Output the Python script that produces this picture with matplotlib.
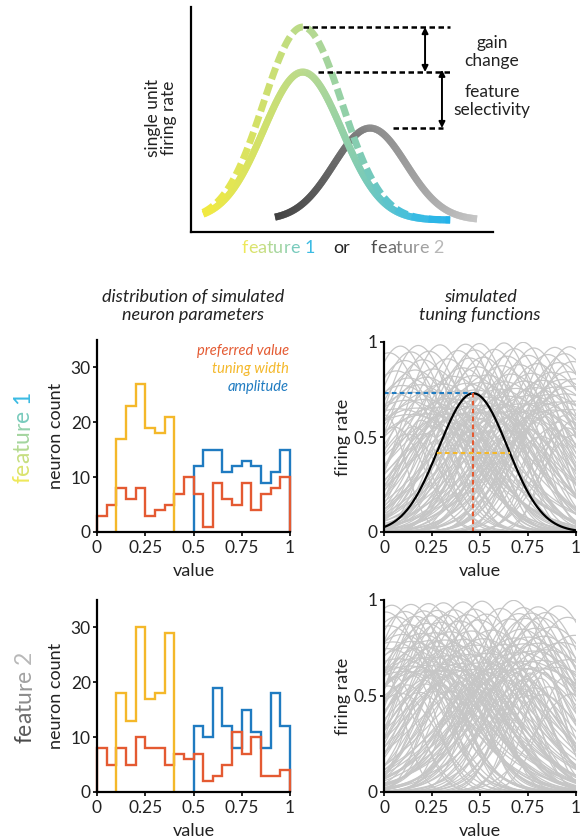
import numpy as np
import matplotlib
matplotlib.use("Agg")
import matplotlib.pyplot as plt
from matplotlib.collections import LineCollection
from matplotlib.colors import LinearSegmentedColormap
from matplotlib.font_manager import FontProperties

FAMILY = ['Lato', 'DejaVu Sans']
plt.rcParams['font.family'] = FAMILY

# ---------------------------------------------------------------- data
# schematic tuning curves (top panel, arbitrary units 0..1)
f1_center = 0.37
f1_sigma = 0.13
f1_baseline = 0.053
f1_amp_solid = 0.658
f1_amp_gain = 0.858
f1_range = (0.04, 0.858)
f2_center = 0.593
f2_sigma = 0.12
f2_amp = 0.409
f2_range = (0.278, 0.947)

# histogram bin edges
pref_edges = np.linspace(0.0, 1.0, 21)
width_edges = np.linspace(0.1, 0.4, 7)
amp_edges = np.linspace(0.5, 1.0, 11)

# feature 1 histogram counts
pref_counts_1 = [3, 5, 8, 6, 8, 3, 4, 5, 7, 10, 7, 1, 9, 6, 5, 9, 4, 7, 8, 10]
width_counts_1 = [17, 23, 27, 19, 18, 21]
amp_counts_1 = [12, 15, 15, 11, 12, 13, 12, 9, 11, 15]

# feature 2 histogram counts
pref_counts_2 = [8, 5, 8, 5, 10, 8, 8, 5, 7, 6, 7, 2, 3, 5, 11, 7, 10, 3, 3, 4]
width_counts_2 = [18, 13, 30, 17, 18, 29]
amp_counts_2 = [12, 10, 19, 12, 8, 15, 11, 8, 18, 12]

# highlighted example neuron (feature 1)
example_pref = 0.465
example_amp = 0.73
example_sigma = 0.18
example_halfwidth = 0.19

x_ticks = [0, 0.25, 0.5, 0.75, 1]
x_ticklabels = ['0', '0.25', '0.5', '0.75', '1']
count_ticks = [0, 10, 20, 30]
rate_ticks = [0, 0.5, 1]
rate_ticklabels = ['0', '0.5', '1']

# ---------------------------------------------------------------- style
RED = '#e45a32'
YEL = '#f4b82a'
BLU = '#1f7bc1'
GRAY = '#c6c6c6'
cmap_f1 = LinearSegmentedColormap.from_list(
    'f1', [(0, '#f3ea3e'), (0.45, '#b2d894'), (0.62, '#86cdb0'),
           (0.85, '#3bbde2'), (1, '#22b2ea')])
cmap_f2 = LinearSegmentedColormap.from_list(
    'f2', [(0, '#383838'), (0.5, '#8a8a8a'), (1, '#c4c4c4')])
cmap_f1_text = LinearSegmentedColormap.from_list(
    'f1t', ['#eee85a', '#b9db8e', '#8fd0b0', '#3bbbe3'])
cmap_f2_text = LinearSegmentedColormap.from_list(
    'f2t', ['#4a4a4a', '#8c8c8c', '#b8b8b8'])

W, H = 580, 840
fig = plt.figure(figsize=(W / 100, H / 100), dpi=100)
renderer = fig.canvas.get_renderer()


def fx(px):
    return px / W


def fy(py):
    return 1 - py / H


def add_ax(l, t, r, b):
    return fig.add_axes([l / W, 1 - b / H, (r - l) / W, (b - t) / H])


def style_ax(ax):
    for s in ('top', 'right'):
        ax.spines[s].set_visible(False)
    for s in ('left', 'bottom'):
        ax.spines[s].set_linewidth(1.6)
    ax.tick_params(direction='out', length=3, width=1.4, labelsize=12.5,
                   pad=1.5, colors='#222222')
    ax.tick_params(axis='x', pad=2.5)


def rainbow_text(px, py, s, cmap, size, rotation=0):
    fp = FontProperties(family=FAMILY, size=size)

    def wid(t):
        return renderer.get_text_width_height_descent(t, fp, ismath=False)[0]
    n = len(s)
    for i, ch in enumerate(s):
        if ch == ' ':
            continue
        off = wid(s[:i + 1]) - wid(ch)
        if rotation == 0:
            x, y = px + off, py
        else:
            x, y = px, py - off
        fig.text(fx(x), fy(y), ch, color=cmap(i / (n - 1)), fontproperties=fp,
                 rotation=rotation, rotation_mode='anchor',
                 ha='left', va='baseline')


# ---------------------------------------------------------------- schematic
AXL, AXT, AXR, AXB = 191, 7, 493, 232
ax0 = add_ax(AXL, AXT, AXR, AXB)
ax0.set_xlim(0, 1)
ax0.set_ylim(0, 1)
ax0.set_xticks([])
ax0.set_yticks([])
for s in ('top', 'right'):
    ax0.spines[s].set_visible(False)
for s in ('left', 'bottom'):
    ax0.spines[s].set_linewidth(1.6)
AXW, AXH = AXR - AXL, AXB - AXT


def gauss(x, c, a, s, base=0.0):
    return base + a * np.exp(-0.5 * ((x - c) / s) ** 2)


def gradient_line(ax, x, y, cmap, lw, dash=None):
    frac = (x - x[0]) / (x[-1] - x[0])
    if dash is None:
        n = len(x)
        segs = [[(x[i], y[i]), (x[min(i + 2, n - 1)], y[min(i + 2, n - 1)])]
                for i in range(n - 1)]
        lc = LineCollection(segs, colors=cmap(frac[:-1]), linewidths=lw,
                            capstyle='butt')
        ax.add_collection(lc)
        return
    px, py = x * AXW, y * AXH
    sarc = np.concatenate([[0], np.cumsum(np.hypot(np.diff(px), np.diff(py)))])
    on, off = dash
    start = 0.0
    while start < sarc[-1]:
        end = min(start + on, sarc[-1])
        ss = np.linspace(start, end, 25)
        xs = np.interp(ss, sarc, x)
        ys = np.interp(ss, sarc, y)
        fm = np.interp(0.5 * (start + end), sarc, frac)
        ax.plot(xs, ys, color=cmap(fm), lw=lw, solid_capstyle='butt')
        start += on + off


xf2 = np.linspace(f2_range[0], f2_range[1], 600)
gradient_line(ax0, xf2, gauss(xf2, f2_center, f2_amp, f2_sigma, f1_baseline),
              cmap_f2, 5)
xf1 = np.linspace(f1_range[0], f1_range[1], 600)
gradient_line(ax0, xf1, gauss(xf1, f1_center, f1_amp_solid, f1_sigma, f1_baseline),
              cmap_f1, 5)
gradient_line(ax0, xf1, gauss(xf1, f1_center, f1_amp_gain, f1_sigma, f1_baseline),
              cmap_f1, 5, dash=(12, 5))

y_gain = f1_baseline + f1_amp_gain
y_solid = f1_baseline + f1_amp_solid
y_f2 = f1_baseline + f2_amp
dkw = dict(color='black', lw=1.8, ls=(0, (2.2, 1.4)))
ax0.plot([f1_center, f1_range[1]], [y_gain, y_gain], **dkw)
ax0.plot([0.42, f1_range[1]], [y_solid, y_solid], **dkw)
ax0.plot([0.669, 0.834], [y_f2, y_f2], **dkw)
akw = dict(arrowstyle='<|-|>', lw=1.4, color='black', mutation_scale=9,
           shrinkA=0, shrinkB=0)
ax0.annotate('', xy=(0.775, y_gain), xytext=(0.775, y_solid), arrowprops=akw)
ax0.annotate('', xy=(0.831, y_solid + 0.01), xytext=(0.831, y_f2), arrowprops=akw)

fig.text(fx(492), fy(52), 'gain\nchange', ha='center', va='center',
         fontsize=12.5, linespacing=1.15, color='#222222')
fig.text(fx(492), fy(101), 'feature\nselectivity', ha='center', va='center',
         fontsize=12.5, linespacing=1.15, color='#222222')
fig.text(fx(161), fy(118), 'single unit\nfiring rate', ha='center', va='center',
         rotation=90, fontsize=12.5, linespacing=1.0, color='#222222')

rainbow_text(242, 253, 'feature 1', cmap_f1_text, 13)
fig.text(fx(333), fy(253), 'or', ha='left', va='baseline', fontsize=13,
         color='#222222')
rainbow_text(371, 253, 'feature 2', cmap_f2_text, 13)

# ---------------------------------------------------------------- titles
fig.text(fx(193), fy(306), 'distribution of simulated\nneuron parameters',
         ha='center', va='center', fontsize=13, style='italic',
         linespacing=1.15, color='#222222')
fig.text(fx(480), fy(306), 'simulated\ntuning functions',
         ha='center', va='center', fontsize=13, style='italic',
         linespacing=1.15, color='#222222')

# row labels
rainbow_text(29, 483, 'feature 1', cmap_f1_text, 16.5, rotation=90)
rainbow_text(31, 743, 'feature 2', cmap_f2_text, 16.5, rotation=90)


# ---------------------------------------------------------------- histograms
def hist_panel(t, b, pc, wc, ac):
    ax = add_ax(97, t, 290, b)
    ax.stairs(ac, amp_edges, baseline=0, color=BLU, lw=1.7, clip_on=False)
    ax.stairs(pc, pref_edges, baseline=0, color=RED, lw=1.7, clip_on=False)
    ax.stairs(wc, width_edges, baseline=0, color=YEL, lw=1.7, clip_on=False)
    ax.set_xlim(0, 1)
    ax.set_ylim(0, 35)
    ax.set_xticks(x_ticks)
    ax.set_xticklabels(x_ticklabels)
    ax.set_yticks(count_ticks)
    style_ax(ax)
    ax.set_xlabel('value', fontsize=13, labelpad=5, color='#222222')
    ax.set_ylabel('neuron count', fontsize=13, labelpad=5, color='#222222')
    return ax


hist_panel(340, 532, pref_counts_1, width_counts_1, amp_counts_1)
hist_panel(600, 792, pref_counts_2, width_counts_2, amp_counts_2)

fig.text(fx(289), fy(351), 'preferred value', ha='right', va='center',
         fontsize=10.5, style='italic', color=RED)
fig.text(fx(289), fy(369), 'tuning width', ha='right', va='center',
         fontsize=10.5, style='italic', color=YEL)
fig.text(fx(289), fy(387), 'amplitude', ha='right', va='center',
         fontsize=10.5, style='italic', color=BLU)


# ---------------------------------------------------------------- tuning curves
def expand(counts, edges):
    vals = []
    for c, lo, hi in zip(counts, edges[:-1], edges[1:]):
        vals.extend(lo + (np.arange(c) + 0.5) / c * (hi - lo))
    return np.array(vals)


def tuning_panel(t, b, pc, wc, ac, example=False):
    ax = add_ax(384, t, 576, b)
    prefs = expand(pc, pref_edges)
    widths = expand(wc, width_edges)
    amps = expand(ac, amp_edges)
    n = len(prefs)
    idx = np.arange(n)
    widths = widths[(idx * 48) % n]
    amps = amps[(idx * 77 + 31) % n]
    xx = np.linspace(0, 1, 200)
    for mu, w, a in zip(prefs, widths, amps):
        ax.plot(xx, gauss(xx, mu, a, w), color=GRAY, lw=0.9)
    if example:
        ax.plot(xx, gauss(xx, example_pref, example_amp, example_sigma),
                color='black', lw=1.6)
        dl = (0, (2.2, 1.6))
        ax.plot([0, example_pref], [example_amp, example_amp], color=BLU,
                lw=1.5, ls=dl)
        ax.plot([example_pref, example_pref], [0, example_amp], color=RED,
                lw=1.5, ls=dl)
        yw = gauss(example_pref + example_halfwidth, example_pref,
                   example_amp, example_sigma)
        ax.plot([example_pref - example_halfwidth,
                 example_pref + example_halfwidth], [yw, yw], color=YEL,
                lw=1.5, ls=dl)
    ax.set_xlim(0, 1)
    ax.set_ylim(0, 1)
    ax.set_xticks(x_ticks)
    ax.set_xticklabels(x_ticklabels)
    ax.set_yticks(rate_ticks)
    ax.set_yticklabels(rate_ticklabels)
    style_ax(ax)
    ax.set_xlabel('value', fontsize=13, labelpad=5, color='#222222')
    ax.set_ylabel('firing rate', fontsize=13, labelpad=2, color='#222222')
    return ax


tuning_panel(342, 532, pref_counts_1, width_counts_1, amp_counts_1, example=True)
tuning_panel(600, 792, pref_counts_2, width_counts_2, amp_counts_2)

fig.savefig('out.png', dpi=100)
